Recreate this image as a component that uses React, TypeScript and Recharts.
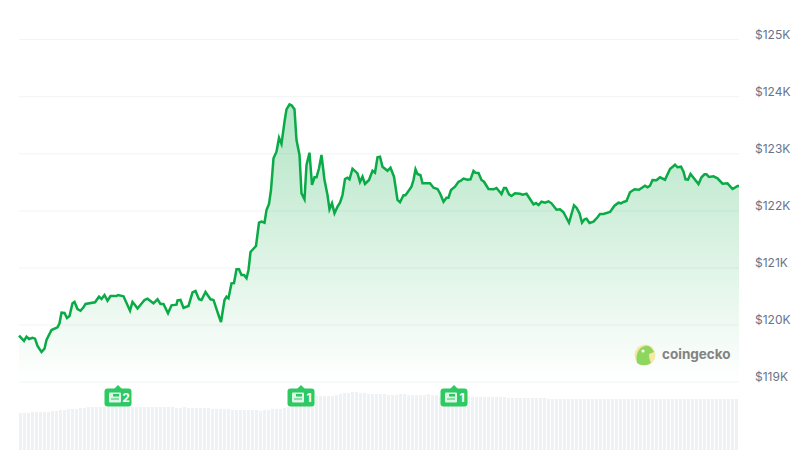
import { Area, AreaChart, Bar, BarChart, CartesianGrid, ReferenceDot, XAxis, YAxis } from "recharts";

const minutes = [
  0, 10, 15, 20, 27, 32, 37, 45, 51, 55, 65, 77, 81, 85, 91, 96, 101, 107, 111, 117, 123, 129, 133, 152, 160, 165, 171,
  177, 183, 195, 198, 209, 222, 227, 232, 237, 251, 257, 269, 277, 283, 289, 298, 305, 315, 317, 323, 329, 339, 347,
  353, 360, 365, 373, 383, 389, 399, 404, 411, 415, 419, 425, 430, 435, 440, 445, 450, 455, 459, 463, 474, 480, 485,
  491, 495, 500, 504, 509, 515, 520, 525, 531, 535, 541, 545, 551, 555, 561, 565, 571, 575, 581, 586, 591, 595, 600,
  605, 611, 617, 621, 626, 631, 637, 642, 647, 652, 657, 661, 667, 677, 682, 687, 692, 700, 707, 712, 717, 722, 727,
  737, 743, 750, 757, 762, 769, 773, 785, 789, 793, 797, 803, 807, 822, 829, 837, 842, 849, 855, 859, 864, 872, 879,
  883, 889, 897, 903, 909, 913, 919, 925, 930, 939, 949, 955, 965, 970, 974, 980, 985, 992, 1002, 1007, 1015, 1029,
  1034, 1039, 1045, 1052, 1059, 1065, 1075, 1082, 1089, 1100, 1110, 1115, 1121, 1126, 1131, 1135, 1141, 1149, 1157,
  1162, 1169, 1182, 1191, 1199, 1204, 1209, 1215, 1222, 1231, 1240, 1252, 1257, 1262, 1267, 1275, 1282, 1292, 1302,
  1312, 1317, 1324, 1329, 1333, 1338, 1343, 1359, 1365, 1371, 1375, 1380, 1389, 1397, 1407, 1417, 1427, 1432, 1437,
  1440,
];

const prices = [
  119814, 119722, 119797, 119757, 119779, 119762, 119634, 119529, 119587, 119739, 119914, 119962, 120032, 120217,
  120212, 120124, 120159, 120382, 120405, 120282, 120252, 120312, 120370, 120399, 120497, 120457, 120527, 120427,
  120510, 120510, 120527, 120504, 120252, 120405, 120352, 120291, 120440, 120462, 120382, 120452, 120370, 120370,
  120207, 120347, 120357, 120434, 120440, 120300, 120335, 120574, 120597, 120452, 120440, 120580, 120452, 120440,
  120177, 120054, 120440, 120497, 120469, 120732, 120737, 120977, 120977, 120877, 120877, 120820, 120965, 121280,
  121385, 121793, 121811, 121793, 122016, 122121, 122366, 122921, 123037, 123282, 123172, 123562, 123779, 123867,
  123849, 123779, 123242, 122979, 122308, 122203, 122804, 123019, 122454, 122588, 122588, 122746, 122979, 122541,
  122278, 122028, 122133, 121958, 122074, 122144, 122278, 122559, 122581, 122553, 122739, 122658, 122506, 122599,
  122471, 122541, 122704, 122669, 122939, 122949, 122774, 122704, 122757, 122599, 122191, 122151, 122273, 122273,
  122424, 122541, 122729, 122646, 122624, 122483, 122483, 122406, 122384, 122308, 122161, 122231, 122231, 122366,
  122424, 122511, 122524, 122567, 122546, 122553, 122699, 122669, 122664, 122541, 122511, 122384, 122378, 122401,
  122296, 122401, 122401, 122291, 122261, 122308, 122301, 122284, 122301, 122116, 122138, 122103, 122161, 122144,
  122168, 122133, 122021, 122028, 121976, 121793, 122098, 122056, 121958, 121793, 121853, 121863, 121788, 121811,
  121888, 121946, 121946, 121981, 122091, 122144, 122133, 122156, 122173, 122326, 122378, 122371, 122441, 122413,
  122441, 122541, 122536, 122588, 122546, 122734, 122809, 122764, 122774, 122687, 122553, 122546, 122646, 122471,
  122588, 122641, 122641, 122594, 122606, 122571, 122476, 122483, 122384, 122406, 122436, 122436,
];

const priceTicks = [119000, 120000, 121000, 122000, 123000, 124000, 125000];

const volumes = [
  37, 37, 37, 38, 38, 38, 38, 38, 39, 39, 40, 40, 41, 41, 41, 42, 42, 43, 43, 43, 43, 43, 43, 43, 43, 43, 43, 43, 43,
  43, 43, 43, 43, 43, 43, 43, 43, 43, 43, 42, 42, 43, 42, 42, 42, 42, 42, 42, 41, 41, 41, 41, 41, 40, 40, 40, 40, 40,
  40, 40, 39, 40, 40, 41, 41, 41, 42, 43, 44, 45, 47, 49, 52, 54, 54, 54, 54, 54, 54, 55, 56, 57, 57, 58, 58, 57, 57,
  56, 56, 56, 56, 56, 55, 55, 55, 56, 56, 55, 55, 55, 55, 55, 56, 55, 55, 54, 54, 54, 54, 54, 54, 54, 54, 53, 53, 53,
  53, 53, 53, 53, 53, 53, 52, 52, 52, 52, 52, 52, 52, 52, 52, 52, 51, 51, 51, 51, 51, 51, 51, 51, 51, 51, 51, 51, 51,
  51, 51, 51, 51, 51, 51, 51, 51, 51, 51, 51, 51, 51, 51, 51, 51, 51, 51, 51, 51, 51, 51, 51, 51, 51, 51, 51, 51, 51,
  51, 51, 51, 51, 51, 51,
];

const newsMinutes = [198, 564, 870];
const newsCounts = [2, 1, 1];

const priceData = minutes.map((minute, i) => ({ minute, price: prices[i] }));
const volumeData = volumes.map((volume, i) => ({ minute: 4 + i * 8, volume }));

function PriceTick({ y, payload }: any) {
  return (
    <text x={755} y={y - 1} fill="#677489" fontSize={12} fontFamily="Inter, sans-serif">
      {`$${payload.value / 1000}K`}
    </text>
  );
}

function NewsBadge({ cx, cy, count }: any) {
  return (
    <g>
      <path d={`M${cx - 4} ${cy - 8} L${cx} ${cy - 12} L${cx + 4} ${cy - 8} Z`} fill="#2fc964" />
      <rect x={cx - 13.5} y={cy - 8.5} width={27} height={18} rx={3} fill="#2fc964" />
      <rect x={cx - 9} y={cy - 4.5} width={12} height={10} rx={1} fill="#dff5e6" />
      <rect x={cx - 5} y={cy - 3} width={6} height={2.5} fill="#2fc964" />
      <rect x={cx - 7} y={cy + 1.5} width={8} height={1} fill="#2fc964" />
      <text x={cx + 8} y={cy + 4.5} fill="#fff" fontSize={12} fontWeight={700} fontFamily="Inter, sans-serif" textAnchor="middle">
        {count}
      </text>
    </g>
  );
}

function Logo() {
  return (
    <svg style={{ position: "absolute", left: 630, top: 340, pointerEvents: "none" }} width={110} height={30}>
      <circle cx={15} cy={15} r={10.5} fill="#f6e8a6" />
      <path d="M7 23 C5 14 9 7 15 6 C19 5 22 8 24 12 L19 14 C19 18 20 21 21 23 C16 26 11 26 7 23 Z" fill="#8fd65f" />
      <circle cx={13} cy={11} r={1.5} fill="#fff" />
      <text x={32} y={19} fill="#828282" fontSize={13.5} fontWeight={700} fontFamily="Inter, sans-serif">
        coingecko
      </text>
    </svg>
  );
}

export default function App() {
  return (
    <div style={{ position: "absolute", left: 0, top: 0, width: 800, height: 450, overflow: "hidden", background: "#fff" }}>
      <div style={{ position: "absolute", left: 0, top: 0, width: 800, height: 400 }}>
        <AreaChart width={800} height={400} data={priceData} margin={{ top: 39.6, right: 0, bottom: 17.8, left: 19 }}>
          <defs>
            <linearGradient id="priceFill" x1="0" y1="0" x2="0" y2="1">
              <stop offset="0%" stopColor="#00a83e" stopOpacity={0.3} />
              <stop offset="100%" stopColor="#00a83e" stopOpacity={0} />
            </linearGradient>
          </defs>
          <CartesianGrid vertical={false} stroke="#f1f3f5" />
          <XAxis dataKey="minute" type="number" domain={[0, 1440]} hide />
          <YAxis
            orientation="right"
            width={61}
            domain={[119000, 125000]}
            ticks={priceTicks}
            tick={<PriceTick />}
            axisLine={false}
            tickLine={false}
          />
          <Area
            type="linear"
            dataKey="price"
            baseValue={119000}
            stroke="#0aab47"
            strokeWidth={2.5}
            fill="url(#priceFill)"
            fillOpacity={1}
            isAnimationActive={false}
          />
        </AreaChart>
      </div>
      <div style={{ position: "absolute", left: 0, top: 385, width: 800, height: 65 }}>
        <BarChart width={800} height={65} data={volumeData} margin={{ top: 0, right: 61, bottom: 0, left: 19 }}>
          <XAxis dataKey="minute" type="number" domain={[0, 1440]} hide />
          <YAxis domain={[0, 65]} hide />
          <Bar dataKey="volume" fill="#eff2f5" barSize={3} isAnimationActive={false} />
          {newsMinutes.map((minute, i) => (
            <ReferenceDot
              key={minute}
              x={minute}
              y={53}
              ifOverflow="visible"
              shape={(props: any) => <NewsBadge {...props} count={newsCounts[i]} />}
            />
          ))}
        </BarChart>
      </div>
      <Logo />
    </div>
  );
}
